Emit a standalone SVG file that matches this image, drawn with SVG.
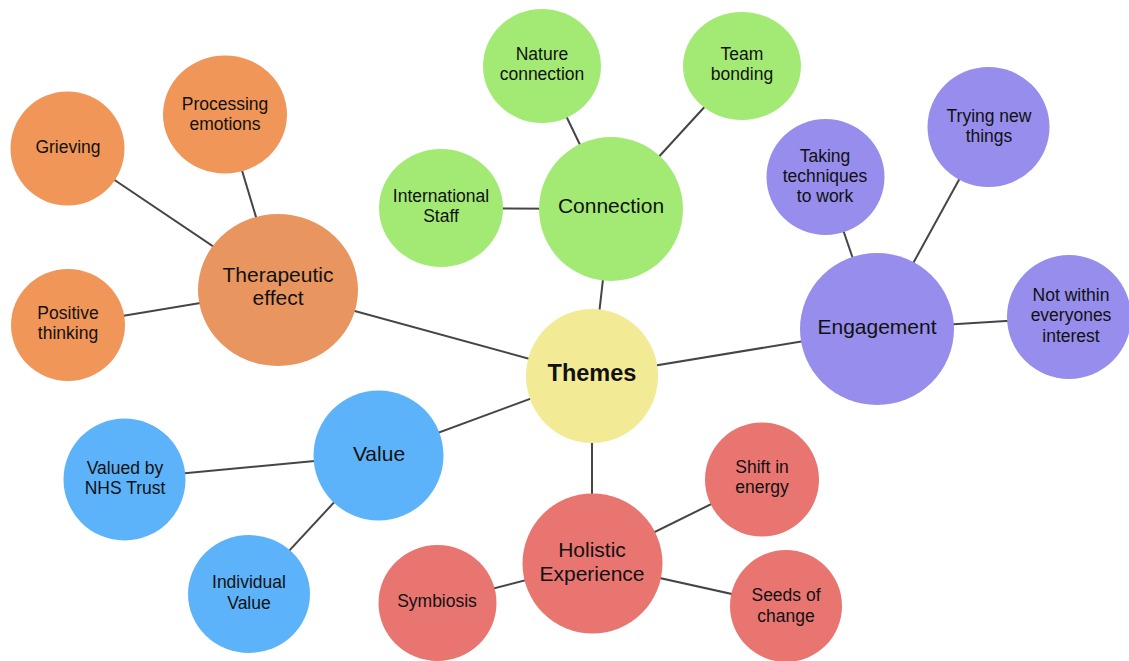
<svg xmlns="http://www.w3.org/2000/svg" width="1129" height="661" viewBox="0 0 1129 661">
  <style>
    .bg { fill: #ffffff; }
    .link { stroke: #454545; stroke-width: 2; fill: none; }
    .t { font-family: "Liberation Sans", Arial, sans-serif; fill: #111111; text-anchor: middle; }
    .sm { font-size: 17.5px; }
    .lg { font-size: 21px; }
    .hub { font-size: 23.5px; font-weight: bold; }
    .orange { fill: #F09658; }
    .orange2 { fill: #E8955F; }
    .green { fill: #A3EA75; }
    .purple { fill: #968DEC; }
    .blue { fill: #5DB3F9; }
    .red { fill: #E97571; }
    .yellow { fill: #F3EA95; }
  </style>
  <rect class="bg" x="0" y="0" width="1129" height="661"/>

  <!-- connectors (drawn beneath the nodes) -->
  <g id="connectors">
    <line class="link" x1="592" y1="376" x2="278" y2="290"/>
    <line class="link" x1="278" y1="290" x2="67" y2="148"/>
    <line class="link" x1="278" y1="290" x2="225" y2="114"/>
    <line class="link" x1="278" y1="290" x2="68" y2="325"/>
    <line class="link" x1="592" y1="376" x2="611" y2="209"/>
    <line class="link" x1="611" y1="209" x2="542" y2="66"/>
    <line class="link" x1="611" y1="209" x2="742" y2="66"/>
    <line class="link" x1="611" y1="209" x2="441" y2="208"/>
    <line class="link" x1="592" y1="376" x2="877" y2="329"/>
    <line class="link" x1="877" y1="329" x2="825" y2="177"/>
    <line class="link" x1="877" y1="329" x2="988" y2="127"/>
    <line class="link" x1="877" y1="329" x2="1069" y2="317"/>
    <line class="link" x1="592" y1="376" x2="378" y2="455"/>
    <line class="link" x1="378" y1="455" x2="124" y2="479"/>
    <line class="link" x1="378" y1="455" x2="249" y2="594"/>
    <line class="link" x1="592" y1="376" x2="592" y2="563"/>
    <line class="link" x1="592" y1="563" x2="762" y2="479"/>
    <line class="link" x1="592" y1="563" x2="786" y2="606"/>
    <line class="link" x1="592" y1="563" x2="437" y2="603"/>
  </g>

  <!-- central theme -->
  <g id="themes">
    <ellipse class="yellow" cx="592" cy="376" rx="66" ry="67"/>
    <text class="t hub" x="592" y="381">Themes</text>
  </g>

  <!-- therapeutic effect branch -->
  <g id="therapeutic-effect">
    <ellipse class="orange2" cx="278" cy="290" rx="80" ry="76"/>
    <text class="t lg" x="278" y="282">Therapeutic</text>
    <text class="t lg" x="278" y="305">effect</text>
  </g>
  <g id="grieving">
    <ellipse class="orange" cx="67.5" cy="148.5" rx="57" ry="57"/>
    <text class="t sm" x="68" y="153">Grieving</text>
  </g>
  <g id="processing-emotions">
    <ellipse class="orange" cx="225" cy="114.5" rx="62" ry="59"/>
    <text class="t sm" x="225" y="110">Processing</text>
    <text class="t sm" x="225" y="130">emotions</text>
  </g>
  <g id="positive-thinking">
    <ellipse class="orange" cx="68" cy="325" rx="57" ry="56"/>
    <text class="t sm" x="68" y="319">Positive</text>
    <text class="t sm" x="68" y="339">thinking</text>
  </g>

  <!-- connection branch -->
  <g id="connection">
    <ellipse class="green" cx="611" cy="209" rx="72" ry="72"/>
    <text class="t lg" x="611" y="213">Connection</text>
  </g>
  <g id="nature-connection">
    <ellipse class="green" cx="542" cy="66" rx="59" ry="57"/>
    <text class="t sm" x="542" y="60">Nature</text>
    <text class="t sm" x="542" y="80">connection</text>
  </g>
  <g id="team-bonding">
    <ellipse class="green" cx="742" cy="66" rx="59" ry="54"/>
    <text class="t sm" x="742" y="60">Team</text>
    <text class="t sm" x="742" y="80">bonding</text>
  </g>
  <g id="international-staff">
    <ellipse class="green" cx="441" cy="208" rx="62" ry="59"/>
    <text class="t sm" x="441" y="202">International</text>
    <text class="t sm" x="441" y="222">Staff</text>
  </g>

  <!-- engagement branch -->
  <g id="engagement">
    <ellipse class="purple" cx="877" cy="329" rx="77" ry="76"/>
    <text class="t lg" x="877" y="334">Engagement</text>
  </g>
  <g id="taking-techniques">
    <ellipse class="purple" cx="825.5" cy="177" rx="59" ry="58"/>
    <text class="t sm" x="825" y="162">Taking</text>
    <text class="t sm" x="825" y="182">techniques</text>
    <text class="t sm" x="825" y="202">to work</text>
  </g>
  <g id="trying-new-things">
    <ellipse class="purple" cx="988.5" cy="127" rx="61" ry="60"/>
    <text class="t sm" x="989" y="122">Trying new</text>
    <text class="t sm" x="989" y="142">things</text>
  </g>
  <g id="not-within-interest">
    <ellipse class="purple" cx="1069" cy="317" rx="62" ry="62"/>
    <text class="t sm" x="1071" y="301">Not within</text>
    <text class="t sm" x="1071" y="321">everyones</text>
    <text class="t sm" x="1071" y="342">interest</text>
  </g>

  <!-- value branch -->
  <g id="value">
    <ellipse class="blue" cx="378.5" cy="455.5" rx="65" ry="65"/>
    <text class="t lg" x="379" y="461">Value</text>
  </g>
  <g id="valued-by-nhs">
    <ellipse class="blue" cx="124.5" cy="479.5" rx="61" ry="61"/>
    <text class="t sm" x="125" y="474">Valued by</text>
    <text class="t sm" x="125" y="494">NHS Trust</text>
  </g>
  <g id="individual-value">
    <ellipse class="blue" cx="249" cy="594" rx="61" ry="59"/>
    <text class="t sm" x="249" y="588">Individual</text>
    <text class="t sm" x="249" y="609">Value</text>
  </g>

  <!-- holistic experience branch -->
  <g id="holistic-experience">
    <ellipse class="red" cx="592.5" cy="563.5" rx="70" ry="70"/>
    <text class="t lg" x="592" y="557">Holistic</text>
    <text class="t lg" x="592" y="581">Experience</text>
  </g>
  <g id="shift-in-energy">
    <ellipse class="red" cx="762" cy="479.5" rx="57" ry="57"/>
    <text class="t sm" x="762" y="473">Shift in</text>
    <text class="t sm" x="762" y="493">energy</text>
  </g>
  <g id="seeds-of-change">
    <ellipse class="red" cx="786" cy="606" rx="56" ry="56"/>
    <text class="t sm" x="786" y="601">Seeds of</text>
    <text class="t sm" x="786" y="622">change</text>
  </g>
  <g id="symbiosis">
    <ellipse class="red" cx="437.5" cy="603" rx="59" ry="58"/>
    <text class="t sm" x="437" y="607">Symbiosis</text>
  </g>
</svg>
